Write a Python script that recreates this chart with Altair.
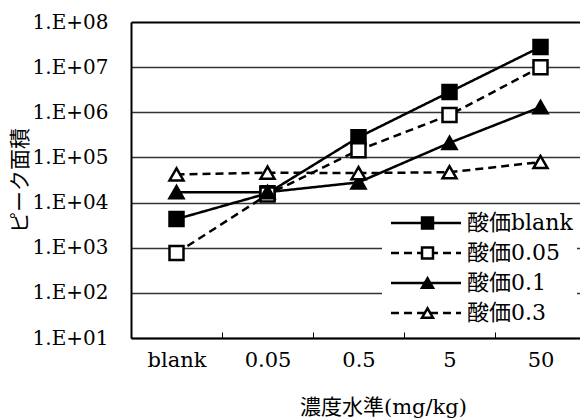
import altair as alt
import pandas as pd

# concentration levels on the x axis
levels = ["blank", "0.05", "0.5", "5", "50"]

# series names (acid value)
series_names = ["酸価blank", "酸価0.05", "酸価0.1", "酸価0.3"]

# peak area per concentration level
area_blank = [4.3e3, 1.6e4, 2.8e5, 2.8e6, 2.8e7]
area_005 = [7.6e2, 1.5e4, 1.45e5, 8.7e5, 1.0e7]
area_01 = [1.7e4, 1.7e4, 2.8e4, 2.1e5, 1.3e6]
area_03 = [4.2e4, 4.6e4, 4.5e4, 4.7e4, 7.9e4]

# y axis decades
y_ticks = [1e1, 1e2, 1e3, 1e4, 1e5, 1e6, 1e7, 1e8]

rows = []
for name, vals in zip(series_names, [area_blank, area_005, area_01, area_03]):
    for lv, v in zip(levels, vals):
        rows.append({"濃度": lv, "系列": name, "系列m": name, "面積": v})
df = pd.DataFrame(rows)

NUM_FONT = "DejaVu Serif"
JP_FONT = "DejaVu Serif, Noto Sans CJK JP"

x_enc = alt.X(
    "濃度:N",
    sort=levels,
    scale=alt.Scale(type="band", range=[0, 455], paddingInner=0, paddingOuter=0),
    axis=alt.Axis(
        title="濃度水準(mg/kg)",
        titleX=252,
        titleY=69,
        titleBaseline="middle",
        titleAlign="center",
        titleFont=JP_FONT,
        titleFontSize=21,
        titleFontWeight="normal",
        titleColor="black",
        labelFont=NUM_FONT,
        labelFontSize=21,
        labelColor="black",
        labelAngle=0,
        labelPadding=17,
        tickBand="extent",
        tickColor="black",
        tickWidth=1,
        tickSize=alt.ExprRef("-6"),
        domainColor="black",
        domainWidth=2,
        grid=False,
    ),
)

y_enc = alt.Y(
    "面積:Q",
    scale=alt.Scale(type="log", domain=[1e1, 1e8]),
    axis=alt.Axis(
        title="ピーク面積",
        titleX=-111,
        titleY=158,
        titleAngle=270,
        titleBaseline="middle",
        titleAlign="center",
        titleFont="Noto Sans CJK JP",
        titleFontSize=21,
        titleFontWeight="normal",
        titleColor="black",
        values=y_ticks,
        labelExpr="'1.E+' + (round(log(datum.value)/LN10) < 10 ? '0' : '') + round(log(datum.value)/LN10)",
        labelFont=NUM_FONT,
        labelFontSize=20,
        labelColor="black",
        labelPadding=23,
        ticks=False,
        domainColor="black",
        domainWidth=2,
        grid=True,
        gridColor=alt.condition("datum.value >= 1e8", alt.value("black"), alt.value("#333333")),
        gridWidth=alt.condition("datum.value >= 1e8", alt.value(2), alt.value(1.3)),
    ),
)

# shared legend geometry: fixed entry height so both legends line up row by row
legend_common = dict(
    title=None,
    orient="none",
    legendX=251,
    legendY=185,
    padding=4,
    clipHeight=24,
    rowPadding=6,
    labelFont=JP_FONT,
    labelFontSize=22,
    labelColor="black",
    labelLimit=0,
    symbolStrokeColor="black",
    symbolStrokeWidth=2.5,
)

# line styles; its legend draws the long line segment and the label of each entry
lines = alt.Chart(df).mark_line(color="black", strokeWidth=2.5).encode(
    x=x_enc,
    y=y_enc,
    strokeDash=alt.StrokeDash(
        "系列:N",
        sort=series_names,
        scale=alt.Scale(range=[[1, 0], [8, 5], [1, 0], [8, 5]]),
        legend=alt.Legend(
            symbolType="M-5,0H5",
            symbolSize=196,
            symbolOffset=29,
            labelOffset=30,
            fillColor="white",
            zindex=1,
            **legend_common,
        ),
    ),
    detail="系列:N",
)

# markers; their legend sits on top of the line legend
marker_legend = alt.Legend(
    labelExpr="''",
    symbolSize=120,
    symbolOffset=30.5,
    labelOffset=30,
    zindex=2,
    **legend_common,
)

points = alt.Chart(df).mark_point(filled=True, size=196, stroke="black", strokeWidth=2.5, opacity=1).encode(
    x=x_enc,
    y=y_enc,
    shape=alt.Shape(
        "系列m:N",
        scale=alt.Scale(domain=series_names, range=["square", "square", "triangle-up", "triangle-up"]),
        legend=marker_legend,
    ),
    fill=alt.Fill(
        "系列m:N",
        scale=alt.Scale(domain=series_names, range=["black", "white", "black", "white"]),
        legend=marker_legend,
    ),
    stroke=alt.Stroke(
        "系列m:N",
        scale=alt.Scale(domain=series_names, range=["black", "black", "black", "black"]),
        legend=marker_legend,
    ),
)

chart = (
    alt.layer(lines, points)
    .properties(
        width=449,
        height=316,
        autosize=alt.AutoSizeParams(type="none"),
        padding={"left": 131, "top": 22, "right": 0, "bottom": 81},
        background="white",
    )
    .configure_view(stroke=None)
)

chart.save("out.html", embed_options={"renderer": "svg", "actions": False})
